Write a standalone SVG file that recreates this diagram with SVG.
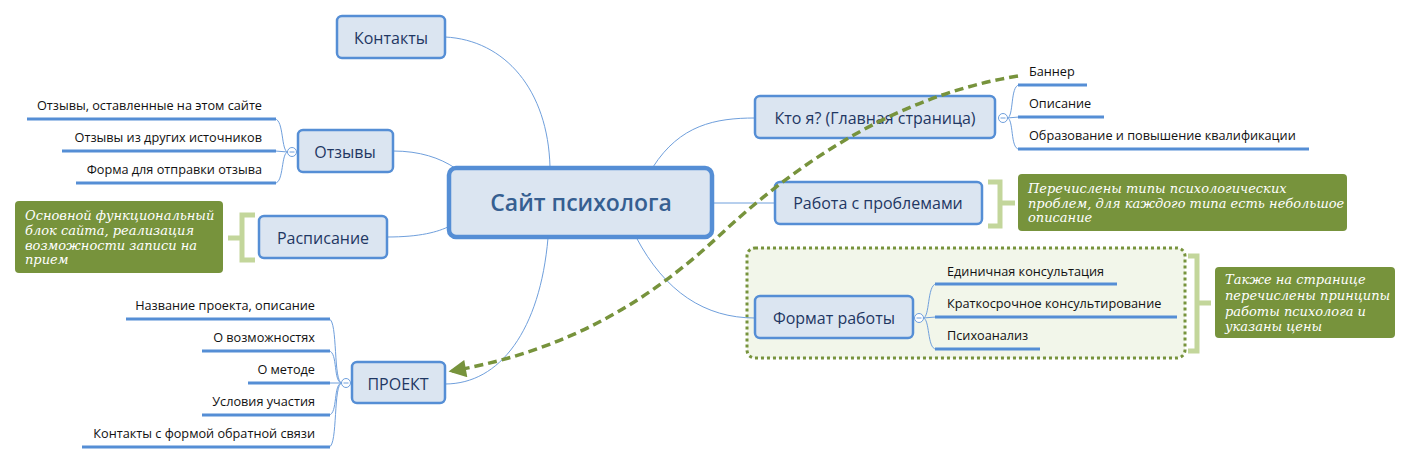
<svg xmlns="http://www.w3.org/2000/svg" width="1411" height="464" viewBox="0 0 1411 464">
<style>
.topic rect{fill:#dbe5f1;stroke:#558ed5;stroke-width:2.5}
.topic text{font-family:"Open Sans","DejaVu Sans",sans-serif;font-size:16px;fill:#1f3763;text-anchor:middle}
.sub text{font-family:"Open Sans","DejaVu Sans",sans-serif;font-size:12.7px;fill:#111}
.sub line{stroke:#558ed5;stroke-width:3}
.conn path{fill:none;stroke:#6f9fdc;stroke-width:1}
.tog{fill:#fff;stroke:#6f9fdc;stroke-width:1}
.togm{stroke:#6f9fdc;stroke-width:1}
.note rect{fill:#77933c}
.note text{font-family:"DejaVu Serif","Liberation Serif",serif;font-style:italic;font-size:13px;fill:#fff}
.br{fill:none;stroke:#c3d69b;stroke-width:5}
.r{text-anchor:end}
</style>
<defs>
<marker id="ah" viewBox="0 0 10 10" refX="8" refY="5" markerWidth="6" markerHeight="5" orient="auto" markerUnits="strokeWidth">
<path d="M0,0 L10,5 L0,10 z" fill="#77933c"/>
</marker>
</defs>
<rect width="1411" height="464" fill="#fff"/>

<!-- boundary -->
<g id="boundary">
<rect x="747" y="248" width="438" height="110" rx="8" fill="#f2f6ea" stroke="#77933c" stroke-width="3" stroke-dasharray="3,3"/>
</g>

<!-- connectors -->
<g id="connectors" class="conn">
<path d="M445,37 C505,40 548,90 550,167"/>
<path d="M393,151 C420,151 440,158 455,168"/>
<path d="M387,237 C420,237 438,232 450,226"/>
<path d="M548,238 C540,330 500,384 445,384"/>
<path d="M653,167 C680,125 715,118 755,118"/>
<path d="M712,203 L775,203"/>
<path d="M636,237 C665,292 705,318 755,318"/>
<!-- Отзывы children -->
<path d="M288,152 C281,152 284,120 275,119"/>
<path d="M288,152 L275,151"/>
<path d="M288,152 C281,152 284,183 275,183"/>
<!-- ПРОЕКТ children -->
<path d="M342,383 C333,383 338,320 329,319"/>
<path d="M342,383 C333,383 338,352 329,351"/>
<path d="M342,383 L329,383"/>
<path d="M342,383 C333,383 338,414 329,415"/>
<path d="M342,383 C333,383 338,446 329,447"/>
<!-- Кто я children -->
<path d="M1007,118 C1014,118 1010,86 1019,85"/>
<path d="M1007,118 L1019,117"/>
<path d="M1007,118 C1014,118 1010,149 1019,149"/>
<!-- Формат children -->
<path d="M923,318 C930,318 927,285 936,284"/>
<path d="M923,318 L936,317"/>
<path d="M923,318 C930,318 927,349 936,349"/>
<!-- toggles -->
<circle class="tog" cx="292" cy="152" r="4.5"/><line class="togm" x1="289.5" y1="152" x2="294.5" y2="152"/>
<circle class="tog" cx="346" cy="383" r="4.5"/><line class="togm" x1="343.5" y1="383" x2="348.5" y2="383"/>
<circle class="tog" cx="1003" cy="118" r="4.5"/><line class="togm" x1="1000.5" y1="118" x2="1005.5" y2="118"/>
<circle class="tog" cx="919" cy="318" r="4.5"/><line class="togm" x1="916.5" y1="318" x2="921.5" y2="318"/>
</g>

<!-- central -->
<g id="central">
<rect x="449" y="168" width="263" height="69" rx="7" fill="#dbe5f1" stroke="#558ed5" stroke-width="4.5"/>
<text x="581" y="211" font-family="'Open Sans','DejaVu Sans',sans-serif" font-size="23" font-weight="600" fill="#365f91" text-anchor="middle">Сайт психолога</text>
</g>

<g id="kontakty" class="topic"><rect x="337" y="16" width="108" height="42" rx="5"/><text x="391" y="44">Контакты</text></g>
<g id="otzyvy" class="topic"><rect x="298" y="130" width="95" height="42" rx="5"/><text x="345" y="158">Отзывы</text></g>
<g id="raspisanie" class="topic"><rect x="259" y="216" width="128" height="42" rx="5"/><text x="323" y="244">Расписание</text></g>
<g id="proekt" class="topic"><rect x="352" y="362" width="93" height="41" rx="5"/><text x="398" y="390">ПРОЕКТ</text></g>
<g id="ktoya" class="topic"><rect x="755" y="96" width="240" height="42" rx="5"/><text x="875" y="124">Кто я? (Главная страница)</text></g>
<g id="rabota" class="topic"><rect x="775" y="182" width="207" height="42" rx="5"/><text x="878" y="209">Работа с проблемами</text></g>
<g id="format" class="topic"><rect x="755" y="296" width="158" height="42" rx="5"/><text x="834" y="324">Формат работы</text></g>

<!-- Отзывы subtopics -->
<g id="otz1" class="sub"><line x1="27" y1="119" x2="276" y2="119"/><text class="r" x="262" y="110">Отзывы, оставленные на этом сайте</text></g>
<g id="otz2" class="sub"><line x1="62" y1="151" x2="276" y2="151"/><text class="r" x="262" y="142">Отзывы из других источников</text></g>
<g id="otz3" class="sub"><line x1="76" y1="183" x2="276" y2="183"/><text class="r" x="262" y="174">Форма для отправки отзыва</text></g>

<!-- ПРОЕКТ subtopics -->
<g id="pr1" class="sub"><line x1="126" y1="319" x2="330" y2="319"/><text class="r" x="315" y="310">Название проекта, описание</text></g>
<g id="pr2" class="sub"><line x1="202" y1="351" x2="330" y2="351"/><text class="r" x="315" y="342">О возможностях</text></g>
<g id="pr3" class="sub"><line x1="248" y1="383" x2="330" y2="383"/><text class="r" x="315" y="374">О методе</text></g>
<g id="pr4" class="sub"><line x1="202" y1="415" x2="330" y2="415"/><text class="r" x="315" y="406">Условия участия</text></g>
<g id="pr5" class="sub"><line x1="82" y1="447" x2="330" y2="447"/><text class="r" x="315" y="438">Контакты с формой обратной связи</text></g>

<!-- Кто я subtopics -->
<g id="k1" class="sub"><line x1="1018" y1="85" x2="1087" y2="85"/><text x="1029" y="76">Баннер</text></g>
<g id="k2" class="sub"><line x1="1018" y1="117" x2="1104" y2="117"/><text x="1029" y="108">Описание</text></g>
<g id="k3" class="sub"><line x1="1018" y1="149" x2="1309" y2="149"/><text x="1029" y="140">Образование и повышение квалификации</text></g>

<!-- Формат subtopics -->
<g id="f1" class="sub"><line x1="935" y1="284" x2="1117" y2="284"/><text x="947" y="276">Единичная консультация</text></g>
<g id="f2" class="sub"><line x1="935" y1="317" x2="1177" y2="317"/><text x="947" y="308">Краткосрочное консультирование</text></g>
<g id="f3" class="sub"><line x1="935" y1="349" x2="1040" y2="349"/><text x="947" y="340">Психоанализ</text></g>

<!-- notes & brackets -->
<g id="note-raspisanie" class="note">
<path class="br" d="M255,215 H242 V260 H255 M242,238 H228"/>
<rect x="15" y="201" width="208" height="72" rx="4"/>
<text x="25" y="220">Основной функциональный</text>
<text x="25" y="235">блок сайта, реализация</text>
<text x="25" y="250">возможности записи на</text>
<text x="25" y="264">прием</text>
</g>
<g id="note-rabota" class="note">
<path class="br" d="M988,182 H1000 V226 H988 M1000,203 H1015"/>
<rect x="1018" y="174" width="329" height="57" rx="4"/>
<text x="1028" y="193">Перечислены типы психологических</text>
<text x="1028" y="208">проблем, для каждого типа есть небольшое</text>
<text x="1028" y="222">описание</text>
</g>
<g id="note-format" class="note">
<path class="br" d="M1188,256 H1197 V351 H1188 M1197,303 H1211"/>
<rect x="1215" y="267" width="180" height="71" rx="4"/>
<text x="1225" y="284">Также на странице</text>
<text x="1225" y="300">перечислены принципы</text>
<text x="1225" y="316">работы психолога и</text>
<text x="1225" y="331">указаны цены</text>
</g>

<!-- relationship arrow -->
<g id="relationship">
<path d="M1018,76 C900,95 800,160 720,235 C650,300 570,350 452,371" fill="none" stroke="#77933c" stroke-width="3.5" stroke-dasharray="9,5" marker-end="url(#ah)"/>
</g>
</svg>
